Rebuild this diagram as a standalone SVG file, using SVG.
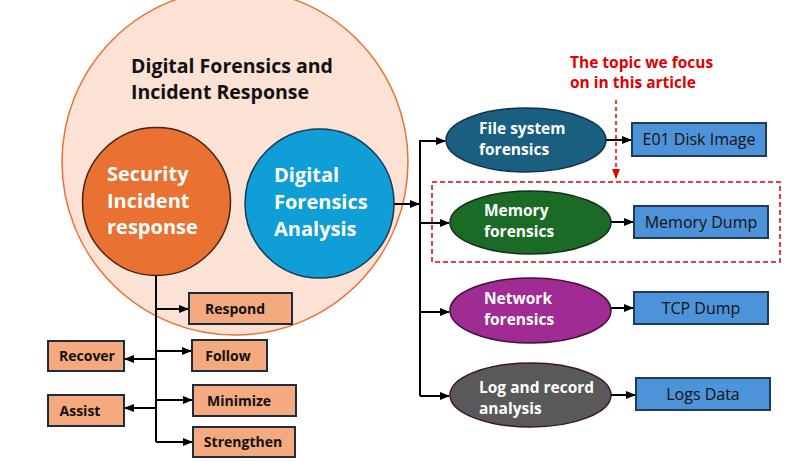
<svg xmlns="http://www.w3.org/2000/svg" width="800" height="470" viewBox="0 0 800 470">
<defs>
<marker id="ah" markerWidth="10" markerHeight="8" refX="9" refY="4" orient="auto" markerUnits="userSpaceOnUse">
<path d="M0,0 L10,4 L0,8 Z" fill="#000"/>
</marker>
<marker id="ahr" markerWidth="10" markerHeight="8" refX="9" refY="4" orient="auto" markerUnits="userSpaceOnUse">
<path d="M0,0 L10,4 L0,8 Z" fill="#E00000"/>
</marker>
<style>
text{font-family:"Open Sans","Liberation Sans",Arial,sans-serif;}
.w{fill:#fff;font-weight:bold;}
.big{font-size:20px;}
.ell{font-size:15.5px;}
.box rect{fill:#F4A97F;stroke:#1E2B3A;stroke-width:2;}
.box text{font-size:14px;font-weight:bold;fill:#111;text-anchor:middle;}
.blue rect{fill:#4D93D9;stroke:#1F3A5A;stroke-width:2;}
.blue text{font-size:16px;fill:#111;text-anchor:middle;}
.c line,.c path{stroke:#000;stroke-width:2;fill:none;}
.ar{marker-end:url(#ah);}
</style>
</defs>
<rect width="800" height="470" fill="#fff"/>

<g id="dfir">
<circle cx="235" cy="162" r="173" fill="#FBE2D5" stroke="#E97132" stroke-width="1.5"/>
<text x="131" y="73" font-size="19.5" font-weight="bold" fill="#111">Digital Forensics and</text>
<text x="131" y="99" font-size="19.5" font-weight="bold" fill="#111">Incident Response</text>
</g>

<g class="c" id="connectors">
<line x1="156" y1="275" x2="156" y2="442"/>
<line class="ar" x1="156" y1="309" x2="188" y2="309"/>
<line class="ar" x1="156" y1="351" x2="191" y2="351"/>
<line class="ar" x1="156" y1="400" x2="192" y2="400"/>
<line class="ar" x1="156" y1="442" x2="192" y2="442"/>
<line class="ar" x1="156" y1="359" x2="125" y2="359"/>
<line class="ar" x1="156" y1="408" x2="125" y2="408"/>
<line class="ar" x1="394" y1="204" x2="419" y2="204"/>
<line x1="420" y1="140" x2="420" y2="396"/>
<line class="ar" x1="420" y1="141" x2="445" y2="141"/>
<line class="ar" x1="420" y1="223" x2="449" y2="223"/>
<line class="ar" x1="420" y1="312" x2="449" y2="312"/>
<line class="ar" x1="420" y1="396" x2="449" y2="396"/>
<line class="ar" x1="606" y1="140" x2="631" y2="140"/>
<line class="ar" x1="611" y1="222" x2="633" y2="222"/>
<line class="ar" x1="611" y1="308" x2="633" y2="308"/>
<line class="ar" x1="611" y1="395" x2="635" y2="395"/>
</g>

<g id="sir">
<circle cx="156.5" cy="201.5" r="74" fill="#E97132" stroke="#4A230E" stroke-width="1.5"/>
<text class="w big" x="107" y="181">Security</text>
<text class="w big" x="107" y="208">Incident</text>
<text class="w big" x="107" y="234">response</text>
</g>

<g id="dfa">
<circle cx="319.5" cy="203.5" r="74.5" fill="#0F9ED5" stroke="#17385A" stroke-width="1.5"/>
<text class="w big" x="274" y="182">Digital</text>
<text class="w big" x="274" y="209">Forensics</text>
<text class="w big" x="274" y="236">Analysis</text>
</g>

<g id="respond" class="box"><rect x="189" y="293" width="103" height="31"/><text x="235" y="314">Respond</text></g>
<g id="follow" class="box"><rect x="192" y="340" width="75" height="31"/><text x="228" y="361">Follow</text></g>
<g id="minimize" class="box"><rect x="193" y="385" width="103" height="31"/><text x="239" y="406">Minimize</text></g>
<g id="strengthen" class="box"><rect x="193" y="427" width="102" height="30"/><text x="243" y="447">Strengthen</text></g>
<g id="recover" class="box"><rect x="48" y="341" width="76" height="30"/><text x="87" y="361">Recover</text></g>
<g id="assist" class="box"><rect x="48" y="395" width="76" height="31"/><text x="80" y="416">Assist</text></g>

<g id="fs">
<ellipse cx="526" cy="140" rx="80" ry="32" fill="#1A5E80" stroke="#13304A" stroke-width="1.5"/>
<text class="w ell" x="479" y="134">File system</text>
<text class="w ell" x="479" y="155">forensics</text>
</g>
<g id="mem">
<ellipse cx="530.5" cy="222.5" rx="80.5" ry="31.5" fill="#1B6B26" stroke="#123016" stroke-width="1.5"/>
<text class="w ell" x="484" y="216">Memory</text>
<text class="w ell" x="484" y="237">forensics</text>
</g>
<g id="net">
<ellipse cx="530.5" cy="310.5" rx="80.5" ry="32.5" fill="#A02B93" stroke="#3E1238" stroke-width="1.5"/>
<text class="w ell" x="484" y="304">Network</text>
<text class="w ell" x="484" y="325">forensics</text>
</g>
<g id="log">
<ellipse cx="530.5" cy="395" rx="80.5" ry="32" fill="#595959" stroke="#3E1238" stroke-width="1.5"/>
<text class="w ell" x="479" y="393">Log and record</text>
<text class="w ell" x="479" y="414">analysis</text>
</g>

<g id="e01" class="blue"><rect x="632" y="123" width="134" height="33"/><text x="699" y="145">E01 Disk Image</text></g>
<g id="memdump" class="blue"><rect x="634" y="206" width="134" height="32"/><text x="701" y="228">Memory Dump</text></g>
<g id="tcp" class="blue"><rect x="634" y="292" width="134" height="32"/><text x="701" y="314">TCP Dump</text></g>
<g id="logs" class="blue"><rect x="636" y="378" width="134" height="32"/><text x="703" y="400">Logs Data</text></g>

<g id="focus">
<rect x="432" y="182" width="348" height="80" fill="none" stroke="#E00000" stroke-width="1.5" stroke-dasharray="5,3"/>
<line x1="616" y1="100" x2="616" y2="178" stroke="#E00000" stroke-width="1.5" stroke-dasharray="4,3" marker-end="url(#ahr)"/>
<text x="570" y="68" font-size="15.5" font-weight="bold" fill="#E00000">The topic we focus</text>
<text x="570" y="88" font-size="15.5" font-weight="bold" fill="#E00000">on in this article</text>
</g>
</svg>
